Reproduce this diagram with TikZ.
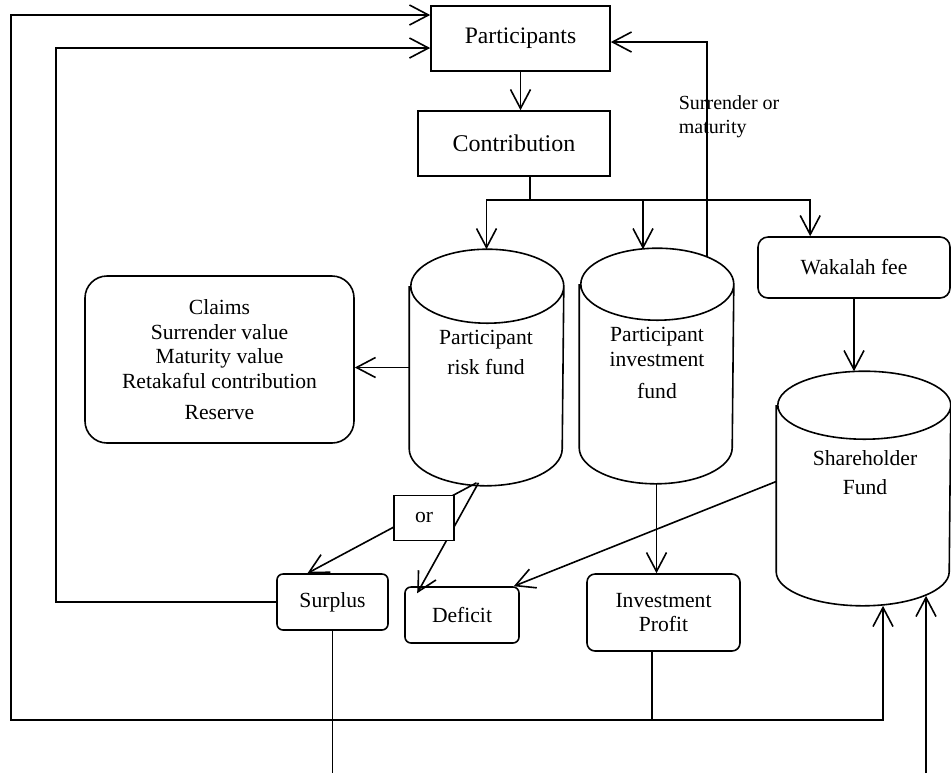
\documentclass[tikz,border=0pt]{standalone}
\usepackage{fontspec}
\setmainfont{Liberation Serif}
\usetikzlibrary{arrows.meta, calc}

% outline of a fund drum round a named node: node, half width, cap radius
\newcommand{\fundcyl}[3]{%
  \draw ([yshift=-#3]#1.north west) -- ([yshift=#3]#1.south west)
    arc[start angle=180, end angle=360, x radius=#2, y radius=#3]
    -- ([yshift=-#3]#1.north east)
    arc[start angle=0, end angle=360, x radius=#2, y radius=#3];}

\begin{document}
\begin{tikzpicture}[x=0.5pt, y=-0.5pt, line width=0.8pt, >={Straight Barb[length=9.5pt, width=10pt]},
    every node/.style={inner sep=0pt, font=\fontsize{10.8}{12.3}\selectfont},
    box/.style={draw, rectangle},
    rbox/.style={draw, rectangle, rounded corners=3pt},
    fund/.style={rectangle}]
    \useasboundingbox (0,0) rectangle (951,773);
    % boxes and funds
    \node[box, minimum width=89.5pt, minimum height=32.5pt, font=\fontsize{11.8}{14}\selectfont] (part) at (520.5,38.5) {Participants};
    \node[box, minimum width=96pt, minimum height=32.5pt, font=\fontsize{12}{14}\selectfont] (contr) at (514,143.5) {Contribution};
    \node[fund, minimum width=76.5pt, minimum height=117.5pt] (rf) at (486.5,367.5) {};
    \node[fund, minimum width=76.5pt, minimum height=117pt] (inf) at (656.5,366) {};
    \node[fund, minimum width=86.5pt, minimum height=116.5pt] (shf) at (863.5,488.5) {};
    \fundcyl{rf}{38.25pt}{18.5pt}
    \fundcyl{inf}{38.25pt}{18pt}
    \fundcyl{shf}{43.25pt}{17pt}
    \node[align=center, font=\fontsize{10.8}{15}\selectfont] (rftxt) at (486,352) {Participant\\risk fund};
    \node[align=center] (inftxt) at (657,363) {Participant\\investment\\[3.5pt]fund};
    \node[align=center, font=\fontsize{10.8}{14.5}\selectfont] (shftxt) at (865,472.5) {Shareholder\\Fund};
    \node[rbox, rounded corners=5pt, minimum width=96pt, minimum height=30.5pt] (wak) at (854,267.5) {Wakalah fee};
    \node[rbox, rounded corners=11pt, minimum width=134.5pt, minimum height=83.5pt, align=center] (claims) at (219.5,359.5) {Claims\\Surrender value\\Maturity value\\Retakaful contribution\\[3pt]Reserve};
    \node[rbox, minimum width=55.5pt, minimum height=28pt] (surplus) at (332.5,602) {Surplus};
    \node[rbox, minimum width=57pt, minimum height=28pt] (deficit) at (462,615) {Deficit};
    \node[rbox, rounded corners=4pt, minimum width=76.5pt, minimum height=38.5pt, align=center] (invp) at (663.5,612.5) {Investment\\Profit};
    \node[font=\fontsize{10}{12}\selectfont, align=left, anchor=west] (srlbl) at (678,117) {Surrender or\\maturity};

    % corner points
    \coordinate (split) at (530,200);
    \coordinate (outer) at (11,15);
    \coordinate (inner) at (56,48);
    \coordinate (ipfoot) at (652,720);
    \coordinate (extin) at (926,773);

    \draw[->] (part.south) -- (part.south |- contr.north);
    \draw (contr.south -| split) -- (split);
    \draw[->] (split) -| (rf.north);
    \draw[->] (split) -| ($(inf.north)+(-13.5,1)$);
    \draw[->] (split) -| ($(wak.north west)+(53,0)$);
    \draw[->] ($(inf.north)+(50.5,9)$) |- ($(part.east)+(0,3.5)$);
    \draw[->] (rf.west) -- (rf.west -| claims.east);
    \draw[->] ($(rf.south)+(-8,-3)$) -- ($(deficit.north west)+(13,7)$);
    \draw[->] ($(rf.south)+(-10,-3)$) -- node[box, fill=white, minimum width=30pt, minimum height=22.5pt, pos=0.31, yshift=-3.5pt] (orb) {or} ($(surplus.north)+(-25,0)$);
    \draw[->] ($(shf.west)+(0,-7)$) -- ($(deficit.north east)+(-6,0)$);
    \draw[->] (wak.south) -- (wak.south |- shf.north);
    \draw[->] (inf.south) -- (inf.south |- invp.north);
    \draw (invp.south -| ipfoot) -- (ipfoot);
    \draw[->] (ipfoot) -| (outer) -- (outer -| part.west);
    \draw[->] (ipfoot) -| ($(shf.south)+(19.5,0)$);
    \draw[->] (extin) -- ($(shf.south)+(62.5,-10)$);
    \draw[->] (surplus.west) -| (inner) -- (inner -| part.west);
    \draw (surplus.south) -- (surplus.south |- extin);
\end{tikzpicture}
\end{document}
